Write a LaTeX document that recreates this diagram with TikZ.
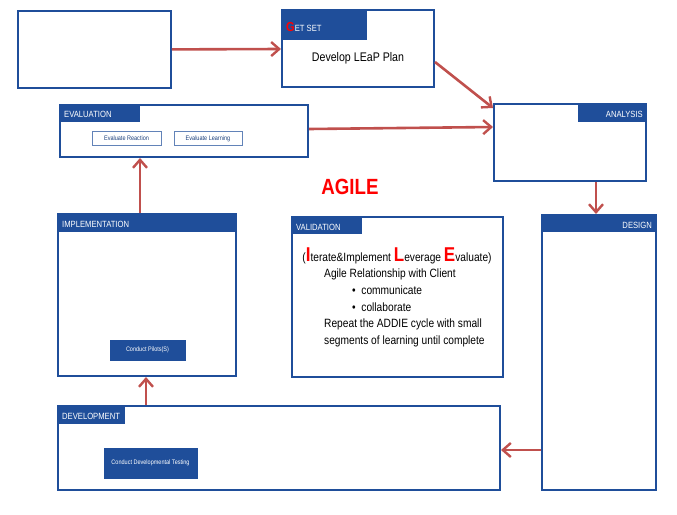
\documentclass[tikz,border=0pt]{standalone}
\usepackage{fontspec}
\setmainfont{Liberation Sans}[FakeStretch=0.85]
\usetikzlibrary{arrows.meta}
\definecolor{hb}{HTML}{1F4E9A}
\definecolor{ar}{HTML}{C0504D}
\begin{document}
\begin{tikzpicture}[x=1pt,y=-1pt,
  box/.style={draw=hb,line width=1.8pt,fill=white},
  hl/.style={text=white,font=\fontsize{9}{10}\selectfont,inner sep=1pt},
  btn/.style={draw=hb,fill=hb,text=white,font=\fontsize{6.5}{7}\selectfont,inner sep=1pt},
  obtn/.style={draw=hb!70,line width=0.8pt,fill=white,text=hb!80!black,font=\fontsize{6.5}{7}\selectfont,inner sep=1pt},
  arr/.style={draw=ar,line width=2.6pt,-{Straight Barb[length=8pt,width=14pt,line width=2.4pt]}}]
\useasboundingbox (0,0) rectangle (677,514);
\node[box,anchor=north west,minimum width=153pt,minimum height=77pt,inner sep=0pt] (blank) at (17,10) {};
\draw[box] (282,10) rectangle (434,87);
\fill[hb] (282,10) rectangle (367,40);
\node[anchor=west,hl] (gsl) at (285,27) {{\color{red}\fontsize{13}{13}\selectfont\bfseries G}ET SET};
\node[font=\fontsize{12.5}{14}\selectfont] (gst) at (358,58) {Develop LEaP Plan};
\draw[box] (494,104) rectangle (646,181);
\fill[hb] (578,104) rectangle (646,122);
\node[anchor=east,hl] (anl) at (644,114) {ANALYSIS};
\draw[box] (60,105) rectangle (308,157);
\fill[hb] (60,105) rectangle (140,122);
\node[anchor=west,hl] (evl) at (63,114) {EVALUATION};
\node[obtn,minimum width=69pt,minimum height=14pt] (er) at (126.5,138.5) {Evaluate Reaction};
\node[obtn,minimum width=68pt,minimum height=14pt] (el) at (208,138.5) {Evaluate Learning};
\node[text=red,font=\fontsize{22}{24}\selectfont\bfseries] (agile) at (350,187) {AGILE};
\draw[box] (58,214) rectangle (236,376);
\fill[hb] (58,214) rectangle (236,232);
\node[anchor=west,hl] (iml) at (61,224) {IMPLEMENTATION};
\node[btn,minimum width=75pt,minimum height=20pt] (cp) at (147.5,350) {Conduct Pilots(S)};
\draw[box] (292,217) rectangle (503,377);
\fill[hb] (292,217) rectangle (362,234);
\node[anchor=west,hl] (vl) at (295,227) {VALIDATION};
\node[font=\fontsize{12}{14}\selectfont,inner sep=0pt] (ile) at (397,256) {({\color{red}\fontsize{20}{20}\selectfont\bfseries I}terate\&Implement {\color{red}\fontsize{20}{20}\selectfont\bfseries L}everage {\color{red}\fontsize{20}{20}\selectfont\bfseries E}valuate)};
\node[anchor=north west,font=\fontsize{12}{16.6}\selectfont,align=left,inner sep=0pt] (vtxt) at (324,269) {Agile Relationship with Client\\
\hspace{28pt}\textbullet\ \ communicate\\
\hspace{28pt}\textbullet\ \ collaborate\\
Repeat the ADDIE cycle with small\\segments of learning until complete};
\draw[box] (542,215) rectangle (656,490);
\fill[hb] (542,215) rectangle (656,232);
\node[anchor=east,hl] (dsl) at (653,225) {DESIGN};
\draw[box] (58,406) rectangle (500,490);
\fill[hb] (58,406) rectangle (125,424);
\node[anchor=west,hl] (dvl) at (61,416) {DEVELOPMENT};
\node[btn,minimum width=93pt,minimum height=30pt] (cdt) at (150.5,463) {Conduct Developmental Testing};
\coordinate (a2) at (281,49);
\coordinate (b1) at (435,62); \coordinate (b2) at (493,108);
\coordinate (c1) at (309,129); \coordinate (c2) at (493,127);
\coordinate (d1) at (596,182); \coordinate (d2) at (596,214);
\coordinate (e1) at (541,450); \coordinate (e2) at (501,450);
\coordinate (f1) at (146,405); \coordinate (f2) at (146,377);
\coordinate (g1) at (140,213); \coordinate (g2) at (140,158);
\draw[arr] (blank.east) -- (a2);
\draw[arr] (b1) -- (b2);
\draw[arr] (c1) -- (c2);
\draw[arr] (d1) -- (d2);
\draw[arr] (e1) -- (e2);
\draw[arr] (f1) -- (f2);
\draw[arr] (g1) -- (g2);
\end{tikzpicture}
\end{document}
